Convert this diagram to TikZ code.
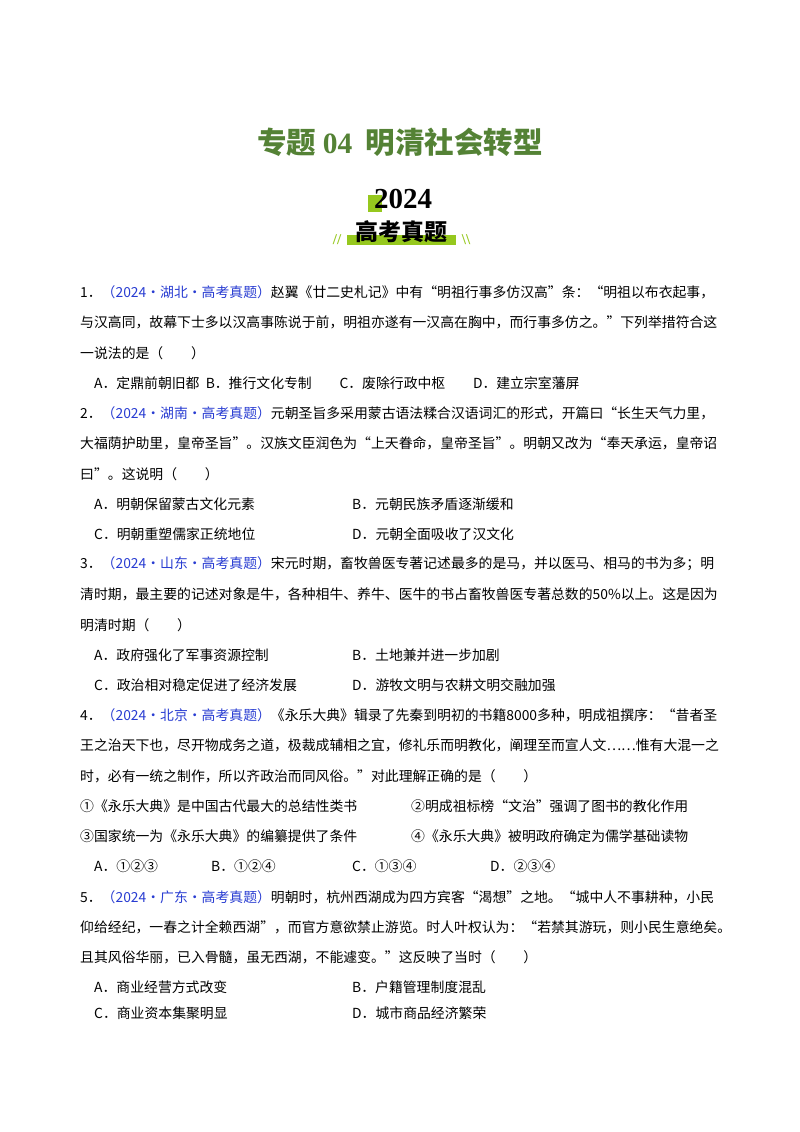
\documentclass[tikz,border=0pt]{standalone}
\usepackage{fontspec}
\setmainfont{Liberation Serif}
\newfontfamily\cjk{Noto Sans CJK SC}
\definecolor{tgreen}{RGB}{84,130,53}
\definecolor{lime}{RGB}{150,200,30}
\definecolor{qblue}{RGB}{40,60,210}
\begin{document}
\begin{tikzpicture}[x=1pt,y=-1pt,
  ln/.style={anchor=west,inner sep=0pt,font=\fontsize{13.85}{14}\selectfont\cjk},
  tag/.style={text=qblue}]
\useasboundingbox (0,0) rectangle (800,1132);
\fill[white] (0,0) rectangle (800,1132);
\node[inner sep=0pt,text=tgreen,font=\fontsize{29.5}{31}\selectfont\cjk\bfseries] (title) at (400,142) {专题 \textrm{\bfseries 04}\ \ 明清社会转型};
\fill[lime] (368,195) rectangle (382,212);
\node[inner sep=0pt,font=\fontsize{29}{31}\selectfont\bfseries] (yr) at (403,199) {2024};
\fill[lime] (347,235) rectangle (456,245);
\node[inner sep=0pt,font=\fontsize{23}{25}\selectfont\cjk\bfseries] (gk) at (401,232) {高考真题};
\node[inner sep=0pt,text=lime,font=\fontsize{15}{15}\selectfont\bfseries] (sl) at (337,240) {//};
\node[inner sep=0pt,text=lime,font=\fontsize{15}{15}\selectfont\bfseries] (sr) at (466,240) {\textbackslash\textbackslash};
% Q1
\node[ln] (a1) at (80,292) {1．\textcolor{qblue}{（2024·湖北·高考真题）}赵翼《廿二史札记》中有“明祖行事多仿汉高”条：“明祖以布衣起事，};
\node[ln] (a2) at (80,322) {与汉高同，故幕下士多以汉高事陈说于前，明祖亦遂有一汉高在胸中，而行事多仿之。”下列举措符合这};
\node[ln] (a3) at (80,353) {一说法的是（\qquad）};
\node[ln] (a4) at (94,383) {A．定鼎前朝旧都\ \ B．推行文化专制\qquad C．废除行政中枢\qquad D．建立宗室藩屏};
% Q2
\node[ln] (b1) at (80,413) {2．\textcolor{qblue}{（2024·湖南·高考真题）}元朝圣旨多采用蒙古语法糅合汉语词汇的形式，开篇曰“长生天气力里，};
\node[ln] (b2) at (80,443) {大福荫护助里，皇帝圣旨”。汉族文臣润色为“上天眷命，皇帝圣旨”。明朝又改为“奉天承运，皇帝诏};
\node[ln] (b3) at (80,474) {曰”。这说明（\qquad）};
\node[ln] (b4) at (94,504) {A．明朝保留蒙古文化元素};
\node[ln] (b5) at (352,504) {B．元朝民族矛盾逐渐缓和};
\node[ln] (b6) at (94,534) {C．明朝重塑儒家正统地位};
\node[ln] (b7) at (352,534) {D．元朝全面吸收了汉文化};
% Q3
\node[ln] (c1) at (80,564) {3．\textcolor{qblue}{（2024·山东·高考真题）}宋元时期，畜牧兽医专著记述最多的是马，并以医马、相马的书为多；明};
\node[ln] (c2) at (80,594) {清时期，最主要的记述对象是牛，各种相牛、养牛、医牛的书占畜牧兽医专著总数的50\%以上。这是因为};
\node[ln] (c3) at (80,625) {明清时期（\qquad）};
\node[ln] (c4) at (94,655) {A．政府强化了军事资源控制};
\node[ln] (c5) at (352,655) {B．土地兼并进一步加剧};
\node[ln] (c6) at (94,685) {C．政治相对稳定促进了经济发展};
\node[ln] (c7) at (352,685) {D．游牧文明与农耕文明交融加强};
% Q4
\node[ln] (d1) at (80,715) {4．\textcolor{qblue}{（2024·北京·高考真题）}《永乐大典》辑录了先秦到明初的书籍8000多种，明成祖撰序：“昔者圣};
\node[ln] (d2) at (80,745) {王之治天下也，尽开物成务之道，极裁成辅相之宜，修礼乐而明教化，阐理至而宣人文……惟有大混一之};
\node[ln] (d3) at (80,776) {时，必有一统之制作，所以齐政治而同风俗。”对此理解正确的是（\qquad）};
\node[ln] (d4) at (80,806) {①《永乐大典》是中国古代最大的总结性类书};
\node[ln] (d5) at (411,806) {②明成祖标榜“文治”强调了图书的教化作用};
\node[ln] (d6) at (80,836) {③国家统一为《永乐大典》的编纂提供了条件};
\node[ln] (d7) at (411,836) {④《永乐大典》被明政府确定为儒学基础读物};
\node[ln] (d8) at (94,866) {A．①②③};
\node[ln] (d9) at (211,866) {B．①②④};
\node[ln] (d10) at (352,866) {C．①③④};
\node[ln] (d11) at (490,866) {D．②③④};
% Q5
\node[ln] (e1) at (80,897) {5．\textcolor{qblue}{（2024·广东·高考真题）}明朝时，杭州西湖成为四方宾客“渴想”之地。“城中人不事耕种，小民};
\node[ln] (e2) at (80,927) {仰给经纪，一春之计全赖西湖”，而官方意欲禁止游览。时人叶权认为：“若禁其游玩，则小民生意绝矣。};
\node[ln] (e3) at (80,957) {且其风俗华丽，已入骨髓，虽无西湖，不能遽变。”这反映了当时（\qquad）};
\node[ln] (e4) at (94,987) {A．商业经营方式改变};
\node[ln] (e5) at (352,987) {B．户籍管理制度混乱};
\node[ln] (e6) at (94,1013) {C．商业资本集聚明显};
\node[ln] (e7) at (352,1013) {D．城市商品经济繁荣};
\end{tikzpicture}
\end{document}
